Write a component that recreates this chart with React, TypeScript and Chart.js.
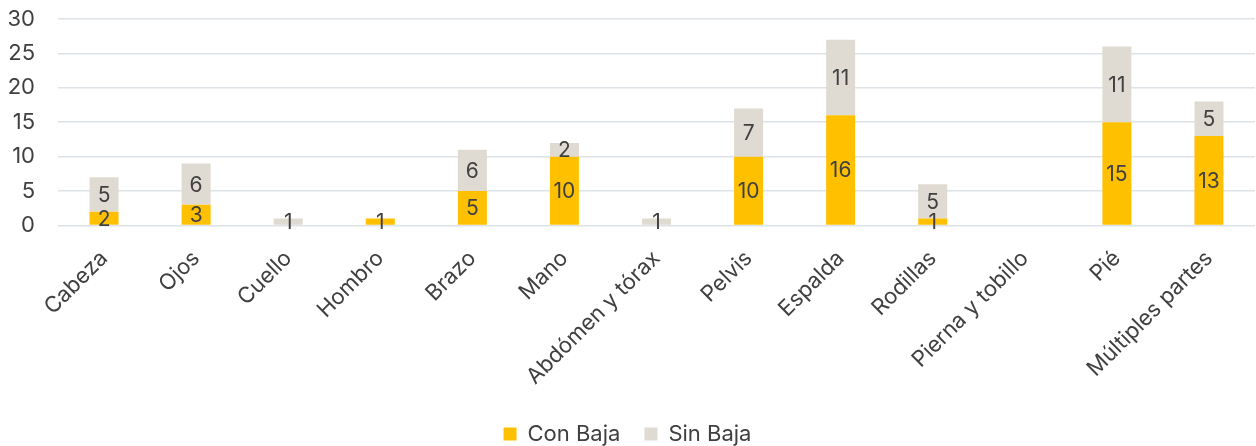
import React, { useEffect, useRef } from "react";
import { Chart, registerables } from "chart.js";

Chart.register(...registerables);

const categories = [
  "Cabeza",
  "Ojos",
  "Cuello",
  "Hombro",
  "Brazo",
  "Mano",
  "Abdómen y tórax",
  "Pelvis",
  "Espalda",
  "Rodillas",
  "Pierna y tobillo",
  "Pié",
  "Múltiples partes",
];
const conBaja = [2, 3, 0, 1, 5, 10, 0, 10, 16, 1, 0, 15, 13];
const sinBaja = [5, 6, 1, 0, 6, 2, 1, 7, 11, 5, 0, 11, 5];
const yTicks = [0, 5, 10, 15, 20, 25, 30];

const FONT = "Inter, 'Liberation Sans', sans-serif";
const TEXT = "#404040";

const labelPlugin = {
  id: "segLabels",
  afterDatasetsDraw(chart: any) {
    const ctx = chart.ctx;
    ctx.save();
    ctx.font = `21px ${FONT}`;
    ctx.fillStyle = TEXT;
    ctx.textAlign = "center";
    ctx.textBaseline = "middle";
    chart.data.datasets.forEach((ds: any, di: number) => {
      const meta = chart.getDatasetMeta(di);
      meta.data.forEach((el: any, i: number) => {
        const v = ds.data[i];
        if (!v) return;
        const p = el.getProps(["x", "y", "base"], true);
        ctx.fillText(String(v), p.x, (p.y + p.base) / 2 + 1);
      });
    });
    ctx.restore();
  },
};

export default function App() {
  const ref = useRef<HTMLCanvasElement>(null);
  useEffect(() => {
    if (!ref.current) return;
    const chart = new Chart(ref.current, {
      type: "bar",
      data: {
        labels: categories,
        datasets: [
          {
            label: "Con Baja",
            data: conBaja,
            backgroundColor: "#FFC000",
            categoryPercentage: 1,
            barPercentage: 0.315,
          },
          {
            label: "Sin Baja",
            data: sinBaja,
            backgroundColor: "#E0DBD2",
            categoryPercentage: 1,
            barPercentage: 0.315,
          },
        ],
      },
      options: {
        animation: false,
        responsive: false,
        maintainAspectRatio: false,
        layout: { autoPadding: false, padding: { top: 19, right: 1, left: 0, bottom: -9 } },
        plugins: {
          legend: {
            position: "bottom",
            labels: {
              font: { family: FONT, size: 22 },
              color: TEXT,
              boxWidth: 13,
              boxHeight: 13,
              padding: 24,
            },
          },
          tooltip: { enabled: false },
        },
        scales: {
          x: {
            stacked: true,
            grid: { display: false, drawTicks: false },
            border: { display: false },
            afterFit: (scale: any) => {
              scale.height -= 11;
            },
            ticks: {
              font: { family: FONT, size: 22 },
              color: TEXT,
              minRotation: 45,
              maxRotation: 45,
              padding: 20,
              autoSkip: false,
            },
          },
          y: {
            stacked: true,
            min: 0,
            max: 30,
            afterBuildTicks: (scale: any) => {
              scale.ticks = yTicks.map((v) => ({ value: v }));
            },
            afterFit: (scale: any) => {
              scale.width = 58;
              scale.paddingTop = 0;
              scale.paddingBottom = 0;
            },
            grid: { color: "#DEE3E8", lineWidth: 1.5, drawTicks: false },
            border: { display: false },
            ticks: {
              font: { family: FONT, size: 22 },
              color: TEXT,
              padding: 23,
            },
          },
        },
      },
      plugins: [labelPlugin],
    });
    return () => chart.destroy();
  }, []);
  return (
    <div style={{ position: "fixed", left: 0, top: 0, width: 1256, height: 446, background: "#fff" }}>
      <canvas ref={ref} width={1256} height={446} style={{ width: 1256, height: 446 }} />
    </div>
  );
}
